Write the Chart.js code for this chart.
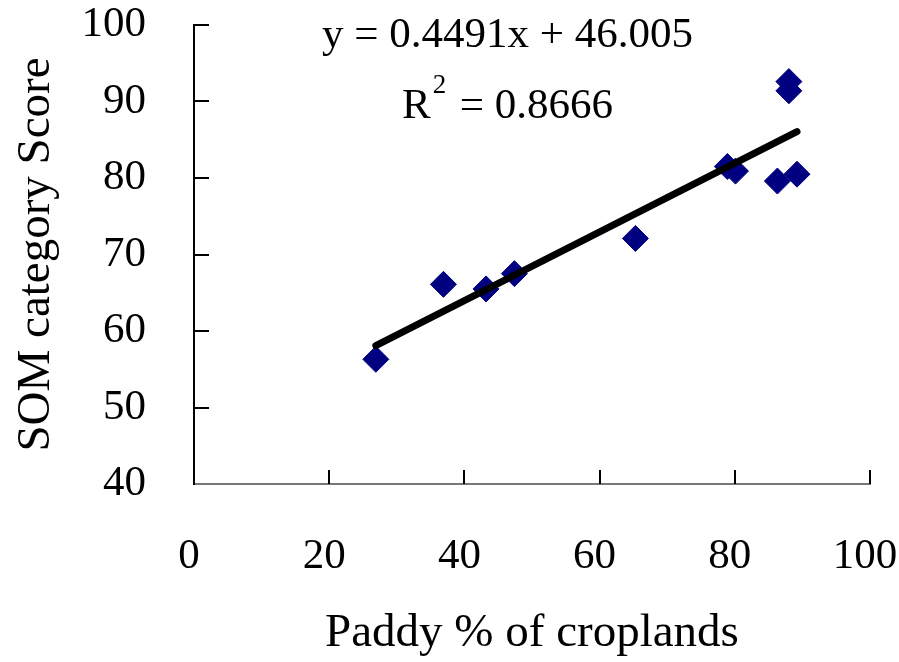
<!DOCTYPE html>
<html>
<head>
<meta charset="utf-8">
<script src="https://cdn.jsdelivr.net/npm/chart.js@4.4.1/dist/chart.umd.min.js"></script>
<style>
	body { margin: 0; background: #fff; }
	#scoreChart { display: block; }
</style>
</head>
<body>
<canvas id="scoreChart" width="899" height="662"></canvas>
<script>
// 논벼 비율 vs SOM 점수
var paddyPct = [26.9, 36.9, 43.2, 47.4, 65.3, 78.9, 80.1, 86.3, 89.2, 88.0, 88.0];
var somScore = [56.3, 66.1, 65.5, 67.5, 72.1, 81.5, 80.9, 79.6, 80.5, 92.6, 91.4];

var xTicks = [0, 20, 40, 60, 80, 100];
var yTicks = [40, 50, 60, 70, 80, 90, 100];

// 추세선 (선형)
var slope = 0.4491;
var intercept = 46.005;
var rSquared = 0.8666;

var serif = "'Liberation Serif', 'Times New Roman', serif";

drawChart();

function noOverhang(scale) {
	//라벨이 삐져나오는 만큼 차트 영역을 줄이지 않도록
	scale.paddingTop = 0;
	scale.paddingBottom = 0;
	scale.paddingLeft = 0;
	scale.paddingRight = 0;
}

function drawChart() {

	var points = [];
	for (var i = 0; i < paddyPct.length; i++) {
		points.push({ x : paddyPct[i], y : somScore[i] });
	}

	var xMin = Math.min.apply(null, paddyPct);
	var xMax = Math.max.apply(null, paddyPct);
	var trend = [
		{ x : xMin, y : slope * xMin + intercept },
		{ x : xMax, y : slope * xMax + intercept }
	];

	//축 안쪽으로 눈금 그리기
	var innerTicks = {
		id : 'innerTicks',
		afterDraw : function(chart) {
			var ctx = chart.ctx;
			var xs = chart.scales.x;
			var ys = chart.scales.y;
			ctx.save();
			ctx.lineWidth = 2;
			ctx.strokeStyle = '#000';
			xTicks.forEach(function(v) {
				if (v == xTicks[0]) return;
				var px = Math.round(xs.getPixelForValue(v));
				ctx.beginPath();
				ctx.moveTo(px, ys.bottom);
				ctx.lineTo(px, ys.bottom - 14);
				ctx.stroke();
			});
			yTicks.forEach(function(v) {
				if (v == yTicks[0]) return;
				var py = Math.round(ys.getPixelForValue(v));
				ctx.beginPath();
				ctx.moveTo(xs.left, py);
				ctx.lineTo(xs.left + 15, py);
				ctx.stroke();
			});
			ctx.restore();
		}
	};

	//회귀식 텍스트
	var equationText = {
		id : 'equationText',
		afterDraw : function(chart) {
			var ctx = chart.ctx;
			ctx.save();
			ctx.fillStyle = '#000';
			ctx.textBaseline = 'alphabetic';
			ctx.font = '43px ' + serif;
			ctx.textAlign = 'left';
			ctx.fillText('y = ' + slope + 'x + ' + intercept.toFixed(3), 322, 47);
			ctx.fillText('R', 402, 118);
			var rw = ctx.measureText('R').width;
			ctx.textAlign = 'right';
			ctx.fillText('= ' + rSquared, 613, 118);
			ctx.textAlign = 'left';
			ctx.font = '27px ' + serif;
			ctx.fillText('2', 402 + rw + 2, 93);
			ctx.restore();
		}
	};

	var ctx = document.getElementById("scoreChart");
	var myChart = new Chart(ctx, {
		type : 'scatter',
		data : {
			datasets : [ {
				label : 'SOM',
				data : points,
				pointStyle : 'rectRot',
				pointRadius : 13,
				pointHoverRadius : 13,
				backgroundColor : '#000080',
				borderColor : '#000080',
				borderWidth : 1,
				order : 2
			}, {
				label : 'trend',
				type : 'line',
				data : trend,
				borderColor : '#000',
				borderWidth : 7,
				borderCapStyle : 'round',
				pointRadius : 0,
				fill : false,
				order : 1
			} ]
		},
		options : {
			responsive : false,
			animation : false,
			layout : {
				padding : { top : 25, right : 29, bottom : 0, left : 0 }
			},
			plugins : {
				legend : { display : false },
				tooltip : { enabled : false }
			},
			scales : {
				x : {
					type : 'linear',
					min : 0,
					max : 100,
					afterBuildTicks : function(scale) {
						scale.ticks = xTicks.map(function(v) { return { value : v }; });
					},
					afterFit : function(scale) {
						scale.height = 178;
						noOverhang(scale);
					},
					ticks : {
						color : '#000',
						padding : 47,
						labelOffset : -5,
						font : { family : serif, size : 43 }
					},
					grid : { drawOnChartArea : false, drawTicks : false },
					border : { color : '#777', width : 2 },
					title : {
						display : true,
						text : 'Paddy % of croplands',
						color : '#000',
						padding : { top : 0, bottom : 0 },
						font : { family : serif, size : 47 }
					}
				},
				y : {
					min : 40,
					max : 100,
					afterBuildTicks : function(scale) {
						scale.ticks = yTicks.map(function(v) { return { value : v }; });
					},
					afterFit : function(scale) {
						scale.width = 194;
						noOverhang(scale);
					},
					ticks : {
						color : '#000',
						padding : 48,
						font : { family : serif, size : 43 }
					},
					grid : { drawOnChartArea : false, drawTicks : false },
					border : { color : '#000', width : 2 },
					title : {
						display : true,
						text : 'SOM category Score',
						color : '#000',
						padding : { top : 8, bottom : 0 },
						font : { family : serif, size : 47 }
					}
				}
			}
		},
		plugins : [ innerTicks, equationText ]
	});
}
</script>
</body>
</html>
